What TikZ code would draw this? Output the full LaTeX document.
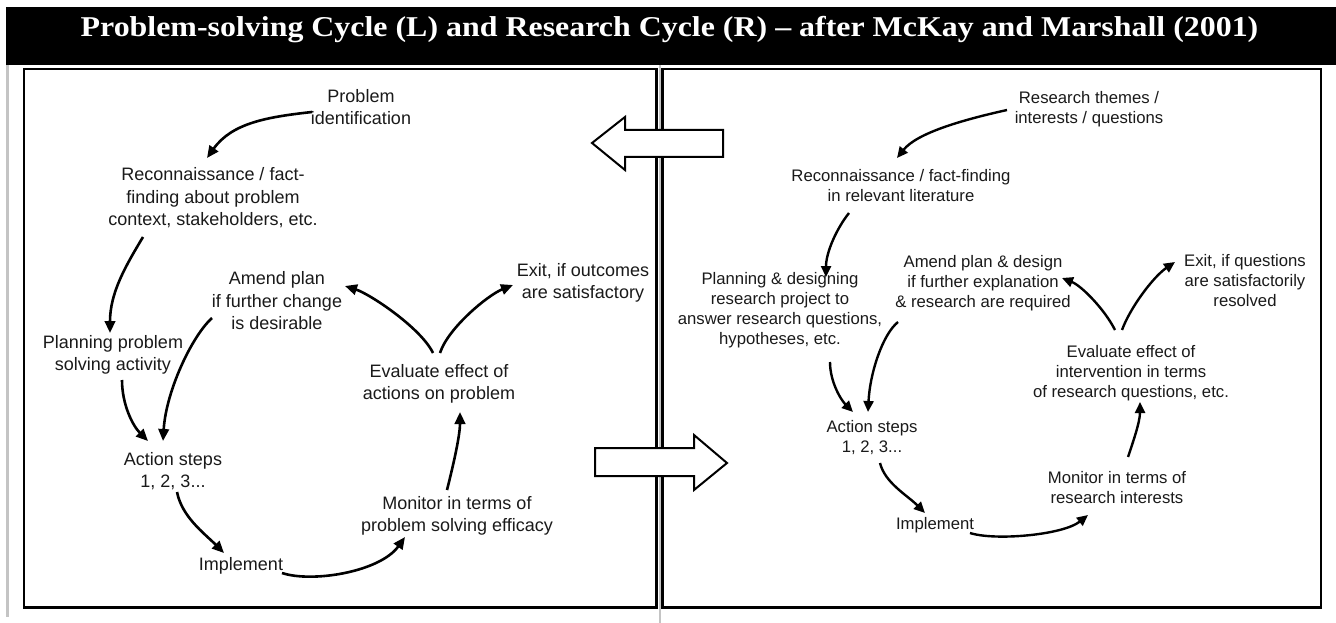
\documentclass[tikz,border=0pt]{standalone}
\usepackage{fontspec}
\setmainfont{Liberation Sans}
\newfontfamily\headfont{Liberation Serif}
\usetikzlibrary{arrows.meta}
\definecolor{ink}{HTML}{1A1A1A}
\definecolor{rulegray}{HTML}{C4C4C4}

\begin{document}
\begin{tikzpicture}[x=1pt,y=-1pt,
  lbl/.style={inner sep=0pt, align=center, text=ink, font=\fontsize{18}{22.5}\selectfont},
  rlbl/.style={inner sep=0pt, align=center, text=ink, font=\fontsize{16.7}{20}\selectfont},
  flow/.style={draw=black, line width=2.6pt, -{Triangle[length=12pt,width=10.5pt]}},
  rflow/.style={draw=black, line width=2.4pt, -{Triangle[length=11pt,width=10pt]}},
  panel/.style={draw=black, line width=2.4pt},
  bigarrow/.style={draw=black, fill=white, line width=2pt, line join=miter},
]
\useasboundingbox (0,0) rectangle (1336,623);
\fill[white] (0,0) rectangle (1336,623);

% heading bar
\fill[black] (6,7) rectangle (1336,65);
\node[anchor=base, text=white, inner sep=0pt,
      font=\headfont\bfseries\fontsize{28.7}{30}\selectfont] (title) at (669.5,37)
  {\scalebox{1.112}[1]{Problem-solving Cycle (L) and Research Cycle (R) – after McKay and Marshall (2001)}};

% thin grey table rules
\draw[rulegray, line width=2.5pt] (7.5,65) -- (7.5,617);
\draw[rulegray, line width=2pt] (659.5,65) -- (659.5,623);

% the two framed panels
\draw[panel] (24,69) rectangle (656.5,607.5);
\draw[panel] (662.5,69) rectangle (1321,607.5);

% hollow block arrows between the panels
\draw[bigarrow] (592,143) -- (625,117) -- (625,130) -- (723,130) -- (723,157)
  -- (625,157) -- (625,170) -- cycle;
\draw[bigarrow] (727,463) -- (694,435) -- (694,448) -- (595,448) -- (595,476)
  -- (694,476) -- (694,490) -- cycle;

% ---------- problem-solving cycle ----------
\node[lbl] (PI) at (361,107) {Problem\\identification};
\node[lbl] (RF) at (213,198) {Reconnaissance / fact-\\finding about problem\\context, stakeholders, etc.};
\node[lbl] (AP) at (277,301) {Amend plan\\if further change\\is desirable};
\node[lbl] (PP) at (113,355) {Planning problem\\solving activity};
\node[lbl] (AS) at (173,471) {Action steps\\1, 2, 3...};
\node[lbl] (IM) at (241,566) {Implement};
\node[lbl] (MO) at (457,516) {Monitor in terms of\\problem solving efficacy};
\node[lbl] (EV) at (439,384) {Evaluate effect of\\actions on problem};
\node[lbl] (EX) at (583,283) {Exit, if outcomes\\are satisfactory};

\draw[flow] ([shift={(-49,5)}]PI.center) .. controls +(-45,5) and +(25,-35) .. ([shift={(-6,-40)}]RF.center);
\draw[flow] ([shift={(-70,39)}]RF.center) .. controls +(-18,30) and +(0,-40) .. ([shift={(-3,-22)}]PP.center);
\draw[flow] ([shift={(-65,17)}]AP.center) .. controls +(-20,18) and +(3,-50) .. ([shift={(-10,-30)}]AS.center);
\draw[flow] ([shift={(9,25)}]PP.center) .. controls +(0,25) and +(-15,-15) .. ([shift={(-25,-30)}]AS.center);
\draw[flow] ([shift={(4,21)}]AS.center) .. controls +(5,25) and +(-20,-20) .. ([shift={(-17,-13)}]IM.center);
\draw[flow] ([shift={(41,7)}]IM.center) .. controls +(30,10) and +(-25,35) .. ([shift={(-52,21)}]MO.center);
\draw[flow] ([shift={(-10,-26)}]MO.center) .. controls +(5,-20) and +(0,25) .. ([shift={(21,28)}]EV.center);
\draw[flow] ([shift={(-6,-31)}]EV.center) .. controls +(-12,-25) and +(25,8) .. ([shift={(68,-15)}]AP.center);
\draw[flow] ([shift={(1,-31)}]EV.center) .. controls +(8,-25) and +(-25,10) .. ([shift={(-70,2)}]EX.center);

% ---------- research cycle ----------
\node[rlbl] (RT) at (1089,109) {Research themes /\\interests / questions};
\node[rlbl] (RR) at (901,186) {Reconnaissance / fact-finding\\in relevant literature};
\node[rlbl] (PD) at (780,310) {Planning \& designing\\research project to\\answer research questions,\\hypotheses, etc.};
\node[rlbl] (AD) at (983,283) {Amend plan \& design\\if further explanation\\\& research are required};
\node[rlbl] (AS2) at (872,438) {Action steps\\1, 2, 3...};
\node[rlbl] (IM2) at (935,525) {Implement};
\node[rlbl] (MO2) at (1117,488) {Monitor in terms of\\research interests};
\node[rlbl] (EV2) at (1131,373) {Evaluate effect of\\intervention in terms\\of research questions, etc.};
\node[rlbl] (EX2) at (1245,281) {Exit, if questions\\are satisfactorily\\resolved};

\draw[rflow] ([shift={(-82,1)}]RT.center) .. controls +(-45,10) and +(20,-25) .. ([shift={(-4,-28)}]RR.center);
\draw[rflow] ([shift={(-52,27)}]RR.center) .. controls +(-12,15) and +(0,-25) .. ([shift={(46,-33)}]PD.center);
\draw[rflow] ([shift={(-85,39)}]AD.center) .. controls +(-15,12) and +(2,-40) .. ([shift={(-4,-26)}]AS2.center);
\draw[rflow] ([shift={(50,52)}]PD.center) .. controls +(0,20) and +(-12,-12) .. ([shift={(-19,-26)}]AS2.center);
\draw[rflow] ([shift={(8,25)}]AS2.center) .. controls +(5,20) and +(-18,-18) .. ([shift={(-10,-12)}]IM2.center);
\draw[rflow] ([shift={(35,8)}]IM2.center) .. controls +(25,8) and +(-25,20) .. ([shift={(-29,27)}]MO2.center);
\draw[rflow] ([shift={(11,-31)}]MO2.center) .. controls +(5,-15) and +(0,20) .. ([shift={(9,29)}]EV2.center);
\draw[rflow] ([shift={(-16,-43)}]EV2.center) .. controls +(-10,-20) and +(20,8) .. ([shift={(79,-5)}]AD.center);
\draw[rflow] ([shift={(-9,-43)}]EV2.center) .. controls +(8,-22) and +(-22,15) .. ([shift={(-70,-19)}]EX2.center);
\end{tikzpicture}
\end{document}
